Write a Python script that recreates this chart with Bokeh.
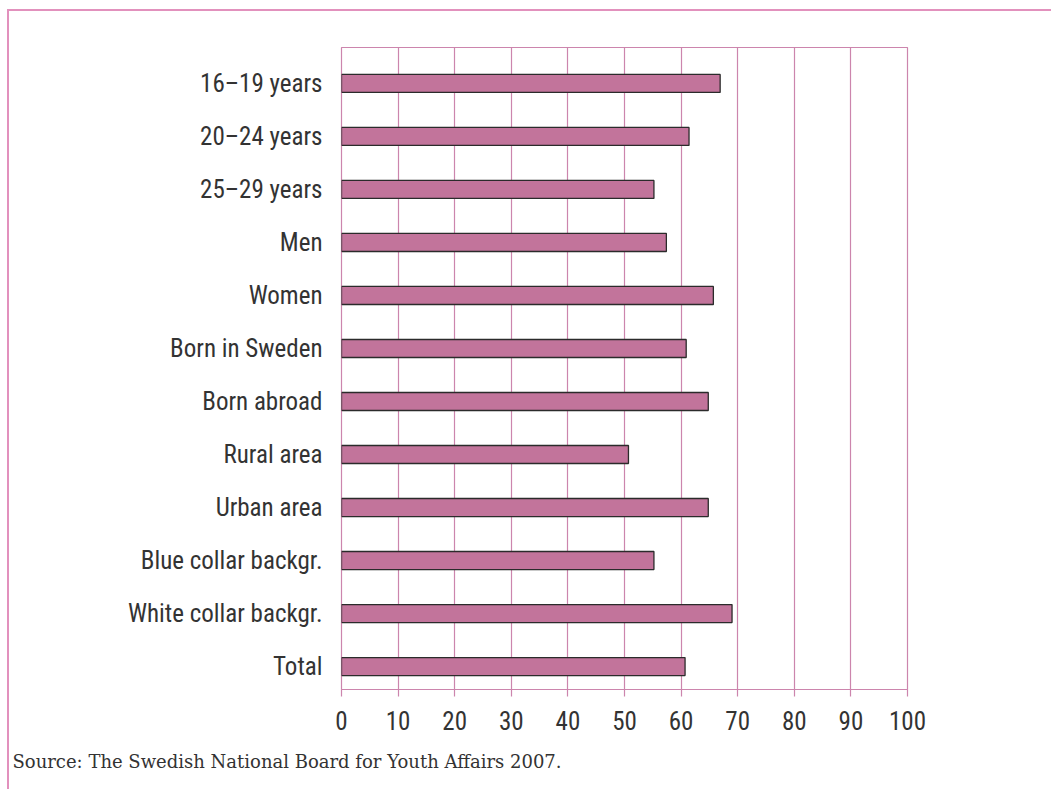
from bokeh.plotting import figure
from bokeh.models import Range1d, FixedTicker, Title, ColumnDataSource
from bokeh.embed import file_html
from bokeh.resources import INLINE

categories = ["16–19 years", "20–24 years", "25–29 years", "Men", "Women",
              "Born in Sweden", "Born abroad", "Rural area", "Urban area",
              "Blue collar backgr.", "White collar backgr.", "Total"]
values = [66.9, 61.4, 55.2, 57.4, 65.7, 60.9, 64.8, 50.7, 64.8, 55.2, 69.0, 60.7]
x_ticks = [0, 10, 20, 30, 40, 50, 60, 70, 80, 90, 100]
source_note = "Source: The Swedish National Board for Youth Affairs 2007."

n = len(categories)
ypos = [n - 1 - i for i in range(n)]
src = ColumnDataSource(dict(y=ypos, v=values, cat=categories))

LABEL_FONT = "'Roboto Condensed', 'Liberation Sans Narrow', 'DejaVu Sans Condensed', sans-serif"
PINK = "#cc85ad"

p = figure(width=1044, height=780, output_backend="svg", toolbar_location=None,
           x_range=Range1d(0, 100), y_range=Range1d(-0.433, n - 1 + 0.678),
           min_border_left=332, min_border_right=146, min_border_top=36,
           min_border_bottom=101)
p.title.text = ""

p.hbar(y="y", left=0, right="v", height=0.34, source=src,
       fill_color="#c2749b", line_color="#2b2b2b", line_width=1.3)

p.outline_line_color = PINK
p.outline_line_width = 1.2
p.ygrid.visible = False
p.xgrid.ticker = FixedTicker(ticks=x_ticks)
p.xgrid.grid_line_color = PINK
p.xgrid.grid_line_width = 1.2

xa = p.xaxis[0]
xa.ticker = FixedTicker(ticks=x_ticks)
xa.axis_line_color = None
xa.major_tick_out = 7
xa.major_tick_in = 0
xa.major_tick_line_color = PINK
xa.major_tick_line_width = 1.2
xa.minor_tick_line_color = None
xa.major_label_standoff = 14
xa.major_label_text_font = LABEL_FONT
xa.major_label_text_font_size = "25px"
xa.major_label_text_color = "#333333"

ya = p.yaxis[0]
ya.ticker = FixedTicker(ticks=ypos)
ya.major_label_overrides = {y: c for y, c in zip(ypos, categories)}
ya.axis_line_color = None
ya.major_tick_line_color = None
ya.minor_tick_line_color = None
ya.major_tick_out = 0
ya.major_tick_in = 0
ya.major_label_standoff = 19
ya.major_label_text_font = LABEL_FONT
ya.major_label_text_font_size = "25px"
ya.major_label_text_color = "#333333"

p.styles = {"margin-left": "7px", "margin-top": "9px",
            "border-top": "2px solid #e291bd", "border-left": "2px solid #e291bd"}

note = Title(text=source_note, align="left", offset=-329, standoff=36,
             vertical_align="top",
             text_font="DejaVu Serif", text_font_size="18px",
             text_font_style="normal", text_color="#333333")
p.add_layout(note, "below")

open("out.html", "w").write(file_html(p, INLINE))
